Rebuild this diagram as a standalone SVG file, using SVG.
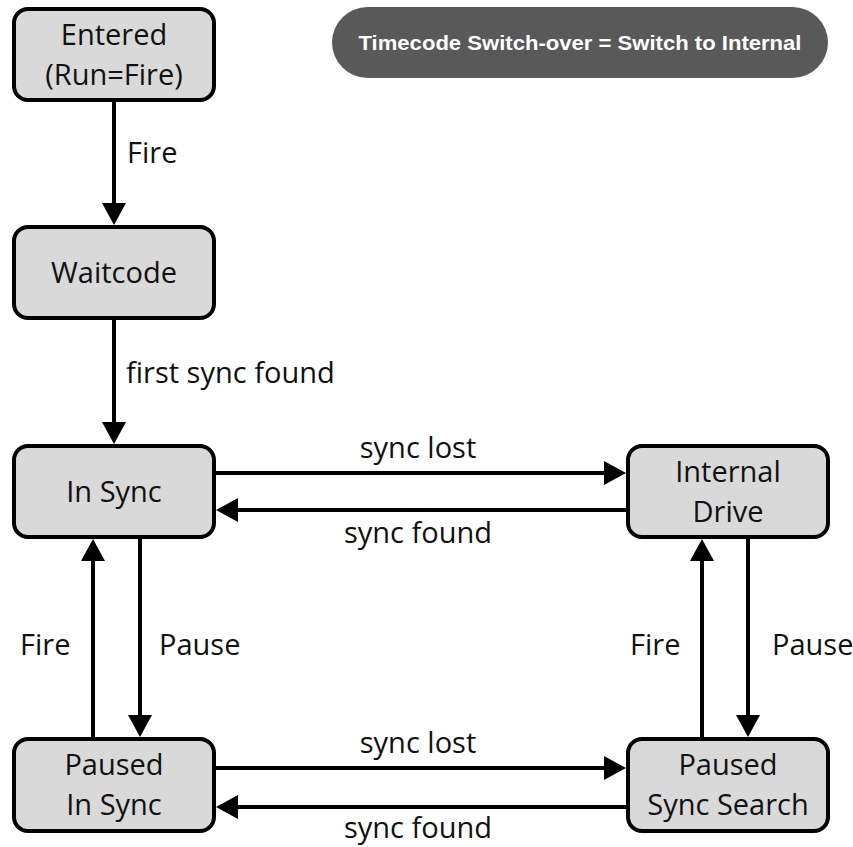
<svg xmlns="http://www.w3.org/2000/svg" width="853" height="847" viewBox="0 0 853 847">
  <style>
    .node rect { fill: #d9d9d9; stroke: #000; stroke-width: 4; }
    .node text, .label { font-family: "Open Sans", "Liberation Sans", sans-serif; font-size: 29px; fill: #111; }
    .node text { text-anchor: middle; }
    .conn line { stroke: #000; stroke-width: 4; marker-end: url(#head); }
    .mid { text-anchor: middle; }
  </style>
  <defs>
    <marker id="head" markerUnits="userSpaceOnUse" viewBox="0 0 22 24" markerWidth="22" markerHeight="24" refX="2" refY="12" orient="auto">
      <path d="M0,0 L22,12 L0,24 Z" fill="#000"/>
    </marker>
  </defs>

  <rect x="0" y="0" width="853" height="847" fill="#fff"/>

  <!-- legend pill -->
  <g id="legend">
    <rect x="332" y="7" width="496" height="71" rx="35.5" fill="#595959"/>
    <text x="580" y="50" text-anchor="middle" font-family="Liberation Sans, Arial, sans-serif" font-weight="bold" font-size="21" fill="#fff" textLength="443" lengthAdjust="spacingAndGlyphs">Timecode Switch-over = Switch to Internal</text>
  </g>

  <!-- connectors -->
  <g id="connectors" class="conn">
    <line x1="114" y1="102" x2="114" y2="205"/>
    <line x1="114" y1="320" x2="114" y2="424"/>
    <line x1="216" y1="473" x2="606" y2="473"/>
    <line x1="626" y1="510" x2="236" y2="510"/>
    <line x1="140" y1="539" x2="140" y2="717"/>
    <line x1="93" y1="737" x2="93" y2="559"/>
    <line x1="748" y1="539" x2="748" y2="717"/>
    <line x1="702" y1="737" x2="702" y2="559"/>
    <line x1="216" y1="768" x2="606" y2="768"/>
    <line x1="626" y1="807" x2="236" y2="807"/>
  </g>

  <!-- connector labels -->
  <g id="labels">
    <text class="label" x="127" y="163">Fire</text>
    <text class="label" x="126" y="383">first sync found</text>
    <text class="label mid" x="418" y="458">sync lost</text>
    <text class="label mid" x="418" y="543">sync found</text>
    <text class="label" x="20" y="655">Fire</text>
    <text class="label" x="159" y="655">Pause</text>
    <text class="label" x="630" y="655">Fire</text>
    <text class="label" x="772" y="655">Pause</text>
    <text class="label mid" x="418" y="753">sync lost</text>
    <text class="label mid" x="418" y="838">sync found</text>
  </g>

  <!-- states -->
  <g id="entered" class="node">
    <rect x="14" y="9" width="200" height="91" rx="14"/>
    <text x="114" y="45">Entered</text>
    <text x="114" y="85">(Run=Fire)</text>
  </g>
  <g id="waitcode" class="node">
    <rect x="14" y="227" width="200" height="91" rx="14"/>
    <text x="114" y="283">Waitcode</text>
  </g>
  <g id="in-sync" class="node">
    <rect x="14" y="446" width="200" height="91" rx="14"/>
    <text x="114" y="502">In Sync</text>
  </g>
  <g id="internal-drive" class="node">
    <rect x="628" y="446" width="200" height="91" rx="14"/>
    <text x="728" y="482">Internal</text>
    <text x="728" y="522">Drive</text>
  </g>
  <g id="paused-in-sync" class="node">
    <rect x="14" y="739" width="200" height="92" rx="14"/>
    <text x="114" y="775">Paused</text>
    <text x="114" y="815">In Sync</text>
  </g>
  <g id="paused-sync-search" class="node">
    <rect x="628" y="739" width="200" height="92" rx="14"/>
    <text x="728" y="775">Paused</text>
    <text x="728" y="815">Sync Search</text>
  </g>
</svg>
